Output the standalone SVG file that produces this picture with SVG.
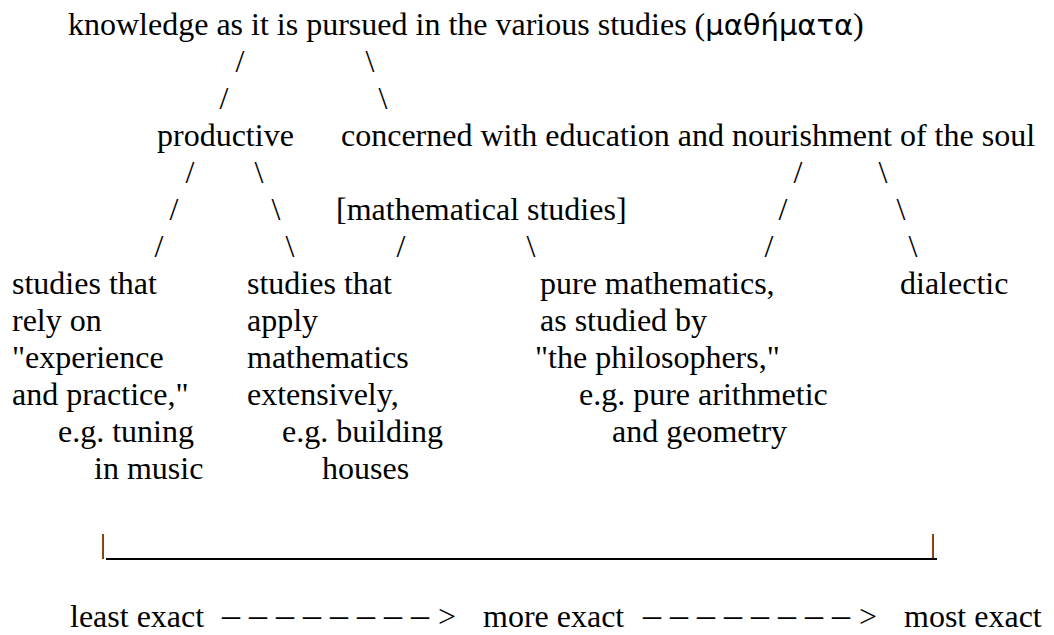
<svg xmlns="http://www.w3.org/2000/svg" width="1054" height="635" viewBox="0 0 1054 635">
<style>
.t{font-family:"Liberation Serif","Times New Roman",serif;font-size:32px;fill:#000}
.g{font-family:"DejaVu Sans","Noto Sans",sans-serif;font-size:29px}
.s{font-family:"Liberation Serif","Times New Roman",serif;font-size:32px;fill:#000;text-anchor:middle}
.d{font-size:36px;letter-spacing:9px}
.bar{font-family:"Liberation Serif","Times New Roman",serif;font-size:27px;fill:#000;text-anchor:middle}
</style>
<rect width="1054" height="635" fill="#fff"/>
<g id="n-root"><text class="t" x="68" y="35">knowledge as it is pursued in the various studies (<tspan class="g">μαθήματα</tspan>)</text></g>
<g id="n-productive"><text class="t" x="157" y="146">productive</text></g>
<g id="n-soul"><text class="t" x="341" y="146">concerned with education and nourishment of the soul</text></g>
<g id="n-math"><text class="t" x="336" y="220">[mathematical studies]</text></g>
<g id="n-experience">
<text class="t" x="12" y="294">studies that</text>
<text class="t" x="12" y="331">rely on</text>
<text class="t" x="12" y="368">"experience</text>
<text class="t" x="12" y="405">and practice,"</text>
<text class="t" x="58" y="442">e.g. tuning</text>
<text class="t" x="94" y="479">in music</text>
</g>
<g id="n-apply">
<text class="t" x="247" y="294">studies that</text>
<text class="t" x="247" y="331">apply</text>
<text class="t" x="247" y="368">mathematics</text>
<text class="t" x="247" y="405">extensively,</text>
<text class="t" x="282" y="442">e.g. building</text>
<text class="t" x="322" y="479">houses</text>
</g>
<g id="n-pure">
<text class="t" x="540" y="294">pure mathematics,</text>
<text class="t" x="540" y="331">as studied by</text>
<text class="t" x="535" y="368">"the philosophers,"</text>
<text class="t" x="579" y="405">e.g. pure arithmetic</text>
<text class="t" x="612" y="442">and geometry</text>
</g>
<g id="n-dialectic"><text class="t" x="900" y="294">dialectic</text></g>
<g id="connectors">
<text class="s" x="240" y="72">/</text><text class="s" x="370" y="72">\</text>
<text class="s" x="224" y="109">/</text><text class="s" x="383" y="109">\</text>
<text class="s" x="190" y="183">/</text><text class="s" x="259" y="183">\</text>
<text class="s" x="798" y="183">/</text><text class="s" x="883" y="183">\</text>
<text class="s" x="174" y="220">/</text><text class="s" x="276" y="220">\</text>
<text class="s" x="783" y="220">/</text><text class="s" x="901" y="220">\</text>
<text class="s" x="159" y="257">/</text><text class="s" x="290" y="257">\</text>
<text class="s" x="401" y="257">/</text><text class="s" x="531" y="257">\</text>
<text class="s" x="769" y="257">/</text><text class="s" x="913" y="257">\</text>
</g>
<g id="scale">
<text class="bar" x="103" y="553">|</text>
<line x1="106" y1="559" x2="937" y2="559" stroke="#000" stroke-width="2"/>
<text class="bar" x="933" y="553">|</text>
<text class="t" x="70" y="627">least exact</text>
<text class="t" x="222" y="627"><tspan class="d">––––––––</tspan>&gt;</text>
<text class="t" x="483" y="627">more exact</text>
<text class="t" x="643" y="627"><tspan class="d">––––––––</tspan>&gt;</text>
<text class="t" x="904" y="627">most exact</text>
</g>
</svg>
